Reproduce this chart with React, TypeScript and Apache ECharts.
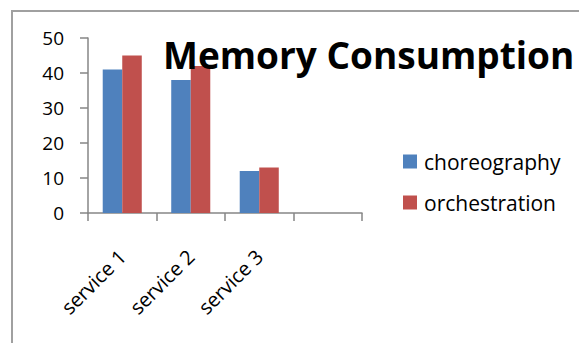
import React, { useEffect, useRef } from "react";
import * as echarts from "echarts";

const categories = ["service 1", "service 2", "service 3", ""];
const choreography = [41, 38, 12, null];
const orchestration = [45, 42, 13, null];
const yTicks = { min: 0, max: 50, interval: 10 };

const FONT = "'Open Sans', sans-serif";

export default function App() {
  const ref = useRef<HTMLDivElement>(null);

  useEffect(() => {
    document.body.style.margin = "0";
    const chart = echarts.init(ref.current!, null, { renderer: "svg" });
    chart.setOption({
      animation: false,
      backgroundColor: "#ffffff",
      textStyle: { fontFamily: FONT },
      title: {
        text: "Memory Consumption",
        left: 158,
        top: 31,
        textStyle: { fontFamily: FONT, fontSize: 37, fontWeight: "bold", color: "#000" },
        z: 10,
      },
      legend: {
        orient: "vertical",
        left: 398,
        top: 146,
        itemWidth: 14,
        itemHeight: 14,
        itemGap: 20,
        icon: "rect",
        textStyle: { fontFamily: FONT, fontSize: 21, color: "#000", padding: [0, 0, 0, 2] },
        data: ["choreography", "orchestration"],
      },
      graphic: [
        {
          type: "rect",
          shape: { x: 12, y: 11, width: 700, height: 500 },
          style: { fill: "none", stroke: "#a0a0a0", lineWidth: 2 },
          silent: true,
        },
      ],
      grid: { left: 88, top: 38, width: 274, height: 175 },
      xAxis: {
        type: "category",
        data: categories,
        axisLine: { lineStyle: { color: "#868686", width: 1.5 } },
        axisTick: { show: true, length: 8, lineStyle: { color: "#868686", width: 1.5 } },
        axisLabel: { rotate: 45, fontSize: 20, color: "#000", margin: 40, fontFamily: FONT },
      },
      yAxis: {
        type: "value",
        min: yTicks.min,
        max: yTicks.max,
        interval: yTicks.interval,
        splitLine: { show: false },
        axisLine: { show: true, lineStyle: { color: "#868686", width: 1.5 } },
        axisTick: { show: true, length: 8, lineStyle: { color: "#868686", width: 1.5 } },
        axisLabel: { fontSize: 19, color: "#000", margin: 24, fontFamily: FONT },
      },
      series: [
        {
          name: "choreography",
          type: "bar",
          data: choreography,
          barGap: "0%",
          barCategoryGap: "43%",
          itemStyle: { color: "#4f81bd" },
        },
        {
          name: "orchestration",
          type: "bar",
          data: orchestration,
          barGap: "0%",
          barCategoryGap: "43%",
          itemStyle: { color: "#c0504d" },
        },
      ],
    });
    return () => chart.dispose();
  }, []);

  return <div ref={ref} style={{ width: 579, height: 343 }} />;
}
